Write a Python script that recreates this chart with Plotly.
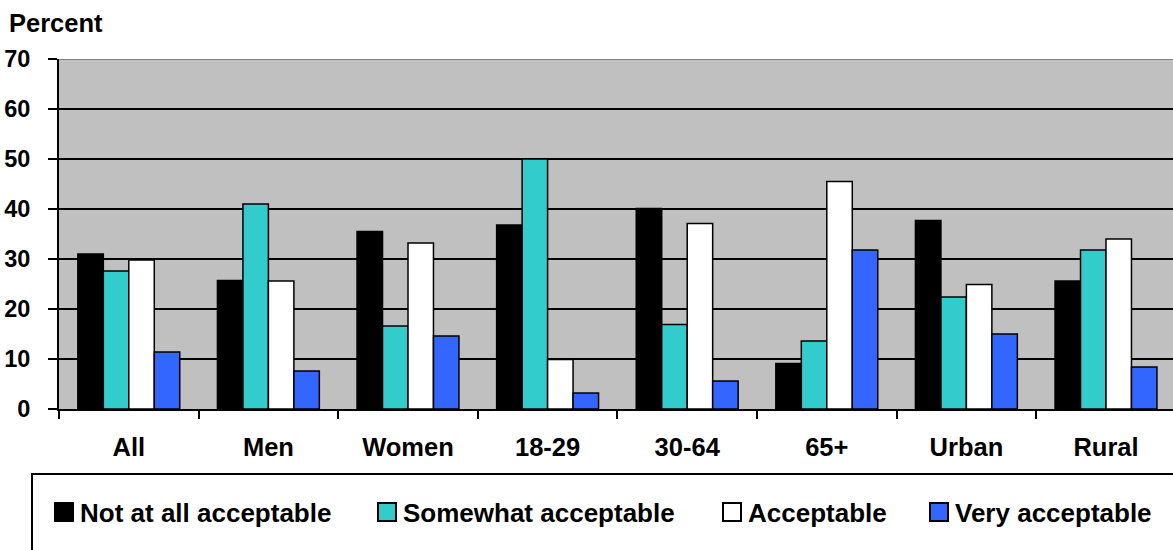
import plotly.graph_objects as go

# Survey results: share of respondents by group and level of acceptability
categories = ["All", "Men", "Women", "18-29", "30-64", "65+", "Urban", "Rural"]
series_names = ["Not at all acceptable", "Somewhat acceptable", "Acceptable", "Very acceptable"]
not_at_all = [31.0, 25.7, 35.5, 36.8, 40.1, 9.1, 37.7, 25.6]
somewhat = [27.6, 41.0, 16.6, 50.0, 16.9, 13.6, 22.4, 31.8]
acceptable = [29.8, 25.6, 33.2, 9.9, 37.1, 45.5, 24.9, 34.0]
very = [11.4, 7.6, 14.6, 3.2, 5.6, 31.8, 15.0, 8.4]
y_ticks = [0, 10, 20, 30, 40, 50, 60, 70]

series_values = [not_at_all, somewhat, acceptable, very]
colors = ["#000000", "#33CCCC", "#FFFFFF", "#3366FF"]

W, H = 1173, 550
ML, MR, MT, MB = 59, 0, 59, 141
PW = W - ML - MR
PH = H - MT - MB
FONT = "Liberation Sans, Arial, sans-serif"


def px_x(px):
    return (px - ML) / PW


def px_y(py):
    return (H - MB - py) / PH


fig = go.Figure()
for name, vals, col in zip(series_names, series_values, colors):
    fig.add_trace(go.Bar(
        x=categories, y=vals, name=name,
        marker=dict(color=col, line=dict(color="#000000", width=1.5)),
        showlegend=False,
    ))

# the last category runs slightly past the right edge of the page
pitch = PW / 7.98
x_range = [-0.5, 7.5 - (8 * pitch - PW) / pitch]

fig.update_layout(
    width=W, height=H,
    margin=dict(l=ML, r=MR, t=MT, b=MB, pad=0),
    paper_bgcolor="#FFFFFF",
    plot_bgcolor="#C0C0C0",
    barmode="group",
    bargap=0.27,
    bargroupgap=0,
    font=dict(family=FONT, color="#000000"),
    xaxis=dict(
        type="category",
        range=x_range,
        showline=True, linecolor="#000000", linewidth=2,
        ticks="outside", ticklen=8, tickwidth=2, tickcolor="#000000",
        tickson="boundaries",
        showgrid=False, zeroline=False,
        tickfont=dict(family=FONT, size=25.5, weight=700, color="#000000"),
        ticklabelstandoff=14,
        fixedrange=True,
    ),
    yaxis=dict(
        range=[0, 70],
        tickvals=y_ticks,
        showline=True, linecolor="#000000", linewidth=2,
        ticks="outside", ticklen=9, tickwidth=2, tickcolor="#000000",
        showgrid=True, gridcolor="#000000", gridwidth=2,
        zeroline=False,
        tickfont=dict(family=FONT, size=23.5, weight=700, color="#000000"),
        ticklabelstandoff=13,
        fixedrange=True,
    ),
)

shapes = []
annotations = []

# grey top edge of the plotting area
shapes.append(dict(type="line", xref="paper", yref="y", x0=0, x1=1, y0=70, y1=70,
                   line=dict(color="#808080", width=2), layer="above"))

# axis title placed above the value axis
annotations.append(dict(
    text="Percent", xref="paper", yref="paper",
    x=px_x(7), y=px_y(23), xanchor="left", yanchor="middle",
    showarrow=False,
    font=dict(family=FONT, size=25.5, weight=700, color="#000000"),
))

# boxed legend below the chart
shapes.append(dict(type="rect", xref="paper", yref="paper",
                   x0=px_x(32), x1=px_x(1200), y0=px_y(474), y1=px_y(600),
                   line=dict(color="#000000", width=2), fillcolor="rgba(0,0,0,0)"))
legend_left = [55, 378, 723, 930]
legend_mid = 512
sq = 18
for name, col, lx in zip(series_names, colors, legend_left):
    shapes.append(dict(type="rect", xref="paper", yref="paper",
                       x0=px_x(lx), x1=px_x(lx + sq),
                       y0=px_y(legend_mid - sq / 2), y1=px_y(legend_mid + sq / 2),
                       line=dict(color="#000000", width=2), fillcolor=col))
    annotations.append(dict(
        text=name, xref="paper", yref="paper",
        x=px_x(lx + 23), y=px_y(legend_mid + 1), xanchor="left", yanchor="middle",
        showarrow=False,
        font=dict(family=FONT, size=26, weight=700, color="#000000"),
    ))

fig.update_layout(shapes=shapes, annotations=annotations)

fig.write_html("out.html", config={"displayModeBar": False})
